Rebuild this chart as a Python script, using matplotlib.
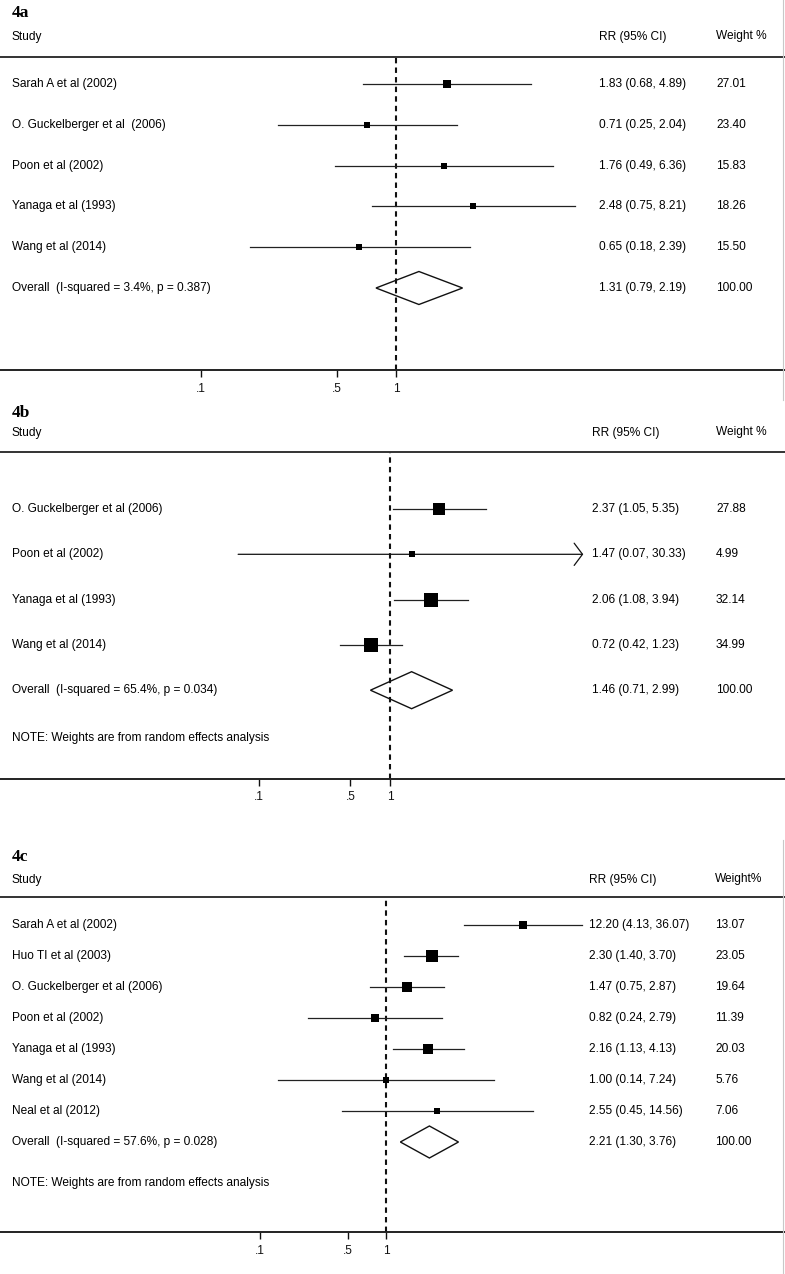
import matplotlib
matplotlib.use("Agg")
import matplotlib.pyplot as plt
import numpy as np
from matplotlib.transforms import blended_transform_factory
from matplotlib.patches import Polygon
from matplotlib.lines import Line2D

plt.rcParams['font.family'] = ['Liberation Sans', 'DejaVu Sans']

# ---------------- data ----------------
tick_vals = [0.1, 0.5, 1]
tick_labels = [".1", ".5", "1"]
note_text = "NOTE: Weights are from random effects analysis"

a_studies = ["Sarah A et al (2002)", "O. Guckelberger et al  (2006)", "Poon et al (2002)",
             "Yanaga et al (1993)", "Wang et al (2014)"]
a_rr = [1.83, 0.71, 1.76, 2.48, 0.65]
a_lo = [0.68, 0.25, 0.49, 0.75, 0.18]
a_hi = [4.89, 2.04, 6.36, 8.21, 2.39]
a_w = [27.01, 23.40, 15.83, 18.26, 15.50]
a_overall = [1.31, 0.79, 2.19]
a_overall_label = "Overall  (I-squared = 3.4%, p = 0.387)"

b_studies = ["O. Guckelberger et al (2006)", "Poon et al (2002)",
             "Yanaga et al (1993)", "Wang et al (2014)"]
b_rr = [2.37, 1.47, 2.06, 0.72]
b_lo = [1.05, 0.07, 1.08, 0.42]
b_hi = [5.35, 30.33, 3.94, 1.23]
b_w = [27.88, 4.99, 32.14, 34.99]
b_overall = [1.46, 0.71, 2.99]
b_overall_label = "Overall  (I-squared = 65.4%, p = 0.034)"

c_studies = ["Sarah A et al (2002)", "Huo TI et al (2003)", "O. Guckelberger et al (2006)",
             "Poon et al (2002)", "Yanaga et al (1993)", "Wang et al (2014)", "Neal et al (2012)"]
c_rr = [12.20, 2.30, 1.47, 0.82, 2.16, 1.00, 2.55]
c_lo = [4.13, 1.40, 0.75, 0.24, 1.13, 0.14, 0.45]
c_hi = [36.07, 3.70, 2.87, 2.79, 4.13, 7.24, 14.56]
c_w = [13.07, 23.05, 19.64, 11.39, 20.03, 5.76, 7.06]
c_overall = [2.21, 1.30, 3.76]
c_overall_label = "Overall  (I-squared = 57.6%, p = 0.028)"

# ---------------- layout ----------------
W, H = 785, 1274
fig = plt.figure(figsize=(W / 100, H / 100), dpi=100)
FS = 8.6


def fy(px):
    return 1 - px / H


def panel(title, studies, rr, lo, hi, w, overall, overall_label, weight_hdr,
          title_y, study_y, header_y, first_y, step, axis_y, one_x, decade,
          rr_x, w_x, dia_half, sq_k, note_y=None, ci_max=None, border=None):
    ax = fig.add_axes([0, fy(axis_y), 1, (axis_y - header_y) / H])
    ax.set_xscale('log')
    ax.set_xlim(10 ** (-one_x / decade), 10 ** ((W - one_x) / decade))
    ax.set_ylim((axis_y - first_y) / step, (header_y - first_y) / step)
    for s in ['left', 'right']:
        ax.spines[s].set_visible(False)
    ax.spines['top'].set_linewidth(1.4)
    ax.spines['top'].set_color('#333333')
    ax.spines['bottom'].set_linewidth(1.4)
    ax.spines['bottom'].set_color('#222222')
    ax.set_yticks([])
    ax.set_xticks(tick_vals)
    ax.set_xticklabels(tick_labels)
    ax.minorticks_off()
    ax.tick_params(axis='x', direction='out', length=5, width=1.0, pad=4,
                   labelsize=FS, colors='#111111')
    ax.axvline(1, color='#111111', lw=1.5, ls=(0, (2.6, 2.0)), zorder=1)

    tr = blended_transform_factory(ax.transAxes, ax.transData)
    for i, (name, r, l, h, wt) in enumerate(zip(studies, rr, lo, hi, w)):
        if ci_max is not None and h > ci_max:
            ax.annotate('', xy=(ci_max, i), xytext=(l, i),
                        arrowprops=dict(arrowstyle='->,head_length=0.6,head_width=0.8',
                                        lw=0.9, color='#111111', shrinkA=0, shrinkB=0))
        else:
            ax.plot([l, h], [i, i], color='#222222', lw=0.9, zorder=2)
        side = sq_k * np.sqrt(wt)
        ax.plot([r], [i], marker='s', ms=side * 0.72, color='black', mec='black',
                mew=0, zorder=3)
        ax.text(12 / W, i, name, transform=tr, va='center', ha='left', fontsize=FS)
        ax.text(rr_x / W, i, f"{r:.2f} ({l:.2f}, {h:.2f})", transform=tr,
                va='center', ha='left', fontsize=FS)
        ax.text(w_x / W, i, f"{wt:.2f}", transform=tr, va='center', ha='left', fontsize=FS)

    n = len(studies)
    dh = dia_half / step
    o_r, o_l, o_h = overall
    poly = Polygon([(o_l, n), (o_r, n - dh), (o_h, n), (o_r, n + dh)], closed=True,
                   fill=False, edgecolor='#111111', lw=1.0, zorder=3)
    ax.add_patch(poly)
    ax.text(12 / W, n, overall_label, transform=tr, va='center', ha='left', fontsize=FS)
    ax.text(rr_x / W, n, f"{o_r:.2f} ({o_l:.2f}, {o_h:.2f})", transform=tr,
            va='center', ha='left', fontsize=FS)
    ax.text(w_x / W, n, "100.00", transform=tr, va='center', ha='left', fontsize=FS)
    if note_y is not None:
        ax.text(12 / W, (note_y - first_y) / step, note_text, transform=tr,
                va='center', ha='left', fontsize=FS)

    fig.text(12 / W, fy(title_y), title, family=['Liberation Serif', 'DejaVu Serif'],
             fontweight='bold', fontsize=12.5, va='center', ha='left')
    fig.text(12 / W, fy(study_y), "Study", fontsize=FS, va='center', ha='left')
    fig.text(rr_x / W, fy(study_y), "RR (95% CI)", fontsize=FS, va='center', ha='left')
    fig.text(w_x / W, fy(study_y - 1), weight_hdr, fontsize=FS, va='center', ha='left')
    if border is not None:
        fig.add_artist(Line2D([783 / W, 783 / W], [fy(border[0]), fy(border[1])],
                              color='#c8c8c8', lw=0.8))
    return ax


panel("4a", a_studies, a_rr, a_lo, a_hi, a_w, a_overall, a_overall_label, "Weight %",
      title_y=13, study_y=37, header_y=57, first_y=84, step=40.8, axis_y=370,
      one_x=396, decade=195.5, rr_x=599, w_x=716, dia_half=16.5, sq_k=1.4,
      border=(0, 400))

panel("4b", b_studies, b_rr, b_lo, b_hi, b_w, b_overall, b_overall_label, "Weight %",
      title_y=413, study_y=433, header_y=452, first_y=509, step=45.3, axis_y=779,
      one_x=390, decade=131.5, rr_x=592, w_x=716, dia_half=18.5, sq_k=2.35,
      note_y=738, ci_max=29.5)

panel("4c", c_studies, c_rr, c_lo, c_hi, c_w, c_overall, c_overall_label, "Weight%",
      title_y=857, study_y=880, header_y=897, first_y=925, step=31.0, axis_y=1232,
      one_x=386, decade=126, rr_x=589, w_x=715, dia_half=16, sq_k=2.3,
      note_y=1183, border=(840, 1274))

fig.savefig("out.png", dpi=100, facecolor='white')
